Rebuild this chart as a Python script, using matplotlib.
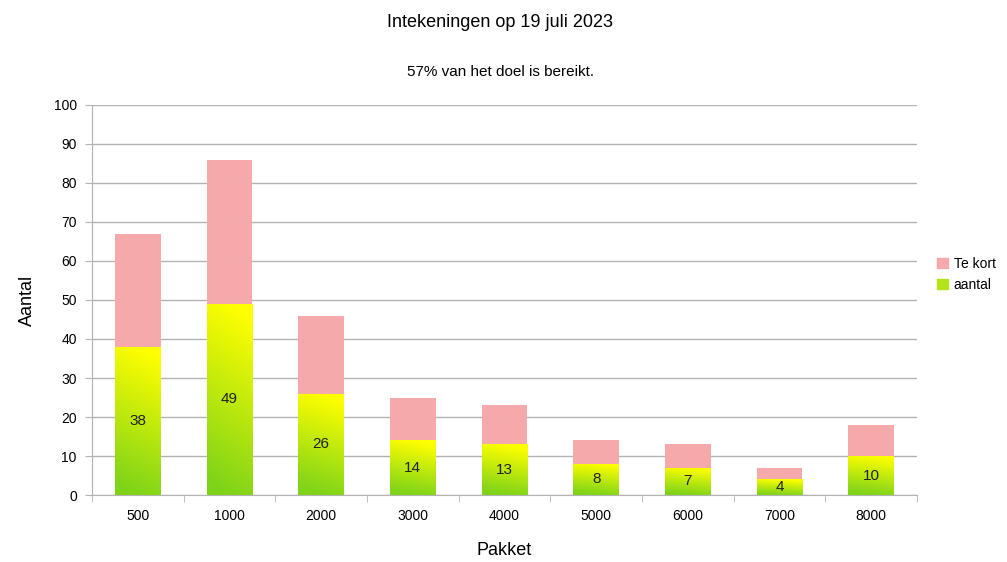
import numpy as np
import matplotlib.pyplot as plt
from matplotlib.colors import LinearSegmentedColormap
from matplotlib.patches import Patch

plt.rcParams['font.family'] = ['Liberation Sans', 'DejaVu Sans']

# data
pakket = ['500', '1000', '2000', '3000', '4000', '5000', '6000', '7000', '8000']
aantal = [38, 49, 26, 14, 13, 8, 7, 4, 10]
te_kort = [29, 37, 20, 11, 10, 6, 6, 3, 8]

pink = '#f5a9aa'
green_cmap = LinearSegmentedColormap.from_list('gy', ['#7fd31a', '#ffff00'])

fig = plt.figure(figsize=(10.07, 5.62), dpi=100)
ax = fig.add_axes([0.0914, 0.1192, 0.8192, 0.694])

x = np.arange(len(pakket))
w = 0.5
bars = ax.bar(x, aantal, width=w, color='none', edgecolor='none', zorder=3)
ax.bar(x, te_kort, width=w, bottom=aantal, color=pink, edgecolor='none', zorder=3)

# gradient fill for the 'aantal' bars (green at bottom, yellow at top)
grad = np.linspace(0, 1, 256).reshape(-1, 1)
grad = grad + np.linspace(-0.08, 0.08, 32).reshape(1, -1)
for b, v in zip(bars, aantal):
    x0 = b.get_x()
    im = ax.imshow(np.clip(grad, 0, 1), cmap=green_cmap, origin='lower', aspect='auto',
                   extent=[x0, x0 + w, 0, v], zorder=3, interpolation='bilinear')
    im.set_clip_path(b)
    ax.text(x0 + w / 2, v / 2, str(v), ha='center', va='center', fontsize=11,
            color='#222222', zorder=4)

ax.set_xlim(-0.5, len(pakket) - 0.5)
ax.set_ylim(0, 100)
ax.set_yticks(range(0, 101, 10))
ax.set_xticks(x)
ax.set_xticklabels(pakket)
ax.set_xticks(np.arange(-0.5, len(pakket)), minor=True)
ax.tick_params(axis='x', which='major', length=0, pad=10, labelsize=10)
ax.tick_params(axis='x', which='minor', length=5, color='#b3b3b3')
ax.tick_params(axis='y', length=5, color='#b3b3b3', labelsize=10, pad=6)
ax.grid(axis='y', color='#b3b3b3', linewidth=1, zorder=0)
for s in ['top', 'right']:
    ax.spines[s].set_visible(False)
ax.spines['left'].set_color('#b3b3b3')
ax.spines['bottom'].set_color('#b3b3b3')
ax.set_axisbelow(True)

ax.set_ylabel('Aantal', fontsize=13, labelpad=13)
ax.set_xlabel('Pakket', fontsize=13, labelpad=14)

fig.text(0.497, 0.96, 'Intekeningen op 19 juli 2023', ha='center', va='center', fontsize=13)
fig.text(0.497, 0.872, '57% van het doel is bereikt.', ha='center', va='center', fontsize=11)

handles = [Patch(color=pink, label='Te kort'), Patch(color='#b5e31a', label='aantal')]
fig.legend(handles=handles, loc='center left', bbox_to_anchor=(0.925, 0.512),
           frameon=False, fontsize=10, handlelength=0.8, handleheight=0.8,
           handletextpad=0.4, labelspacing=0.5, borderaxespad=0)

fig.savefig('out.png', dpi=100)
